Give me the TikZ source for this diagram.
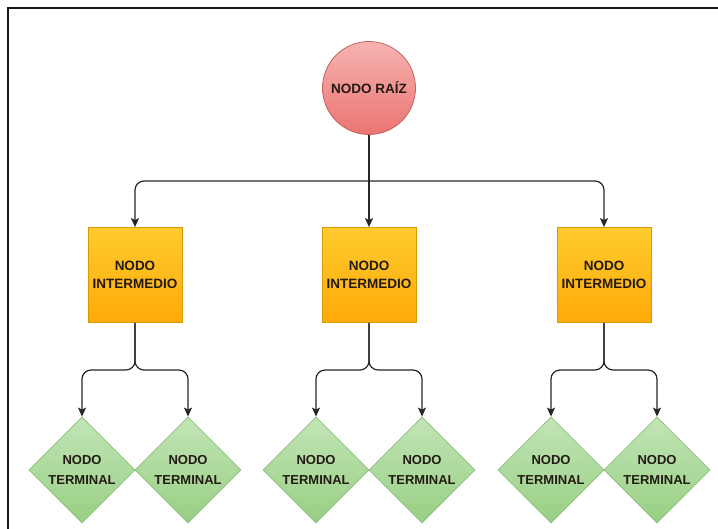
\documentclass[tikz,border=0pt]{standalone}
\usepackage{fontspec}
\setmainfont{Liberation Sans}
\usetikzlibrary{shapes.geometric,arrows.meta}

\definecolor{rootTop}{HTML}{F6B3B1}
\definecolor{rootBot}{HTML}{EC7472}
\definecolor{rootLine}{HTML}{C06662}
\definecolor{midTop}{HTML}{FFCB2E}
\definecolor{midBot}{HTML}{FFAA08}
\definecolor{midLine}{HTML}{D99A00}
\definecolor{leafTop}{HTML}{C2E5B6}
\definecolor{leafBot}{HTML}{98CF84}
\definecolor{leafLine}{HTML}{8CBF78}
\definecolor{ink}{HTML}{231A14}

\tikzset{
  rootnode/.style={circle, draw=rootLine, line width=0.8pt, top color=rootTop,
    bottom color=rootBot, minimum size=93pt, inner sep=0pt, text=ink,
    font=\bfseries\fontsize{13.5}{18}\selectfont},
  midnode/.style={rectangle, draw=midLine, line width=0.8pt, top color=midTop,
    bottom color=midBot, minimum width=94pt, minimum height=95pt, inner sep=0pt,
    align=center, text=ink, font=\bfseries\fontsize{13.5}{18}\selectfont},
  leafnode/.style={diamond, aspect=1, draw=leafLine, line width=0.8pt,
    top color=leafTop, bottom color=leafBot, minimum width=106pt,
    minimum height=106pt, inner sep=0pt, align=center, text=ink,
    font=\bfseries\fontsize{13}{20}\selectfont},
  conn/.style={line width=1.2pt, draw=black!85,
    -{Stealth[length=9pt,width=8pt,inset=2pt]}},
  plain/.style={line width=1.2pt, draw=black!85},
  frame/.style={line width=2pt, draw=black!90}
}

\begin{document}
\begin{tikzpicture}[x=1pt, y=-1pt]
  \useasboundingbox (0,0) rectangle (718,529);
  \draw[frame] (718,8) -- (8,8) -- (8,529);

  % root
  \node[rootnode] (root) at (369,88) {NODO RAÍZ};

  % intermediate level
  \node[midnode] (m1) at (135,275) {NODO\\INTERMEDIO};
  \node[midnode] (m2) at (369,275) {NODO\\INTERMEDIO};
  \node[midnode] (m3) at (604,275) {NODO\\INTERMEDIO};

  % terminal level
  \node[leafnode] (t1) at (82,470)  {NODO\\TERMINAL};
  \node[leafnode] (t2) at (188,470) {NODO\\TERMINAL};
  \node[leafnode] (t3) at (316,470) {NODO\\TERMINAL};
  \node[leafnode] (t4) at (422,470) {NODO\\TERMINAL};
  \node[leafnode] (t5) at (551,470) {NODO\\TERMINAL};
  \node[leafnode] (t6) at (657,470) {NODO\\TERMINAL};

  % root to intermediate nodes
  \coordinate (j) at (369,181);
  \draw[conn] (root.south) -- (m2.north);
  \draw[conn, rounded corners=9pt] (j) -| (m1.north);
  \draw[conn, rounded corners=9pt] (j) -| (m3.north);

  % intermediate to terminal nodes
  \coordinate (s1) at (135,370);
  \coordinate (s2) at (369,370);
  \coordinate (s3) at (604,370);
  \draw[conn, rounded corners=9pt] (m1.south) -- (s1) -| (t1.north);
  \draw[conn, rounded corners=9pt] (m1.south) -- (s1) -| (t2.north);
  \draw[conn, rounded corners=9pt] (m2.south) -- (s2) -| (t3.north);
  \draw[conn, rounded corners=9pt] (m2.south) -- (s2) -| (t4.north);
  \draw[conn, rounded corners=9pt] (m3.south) -- (s3) -| (t5.north);
  \draw[conn, rounded corners=9pt] (m3.south) -- (s3) -| (t6.north);
\end{tikzpicture}
\end{document}
